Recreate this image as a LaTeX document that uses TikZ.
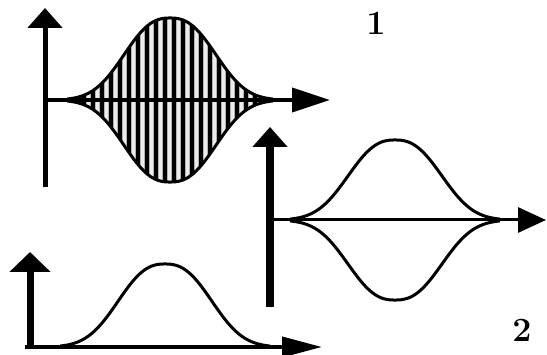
\documentclass[tikz,border=0pt]{standalone}
\usepackage{tikz}
\usetikzlibrary{arrows.meta,calc,positioning}

\tikzset{
  axis/.style={line width=#1,-{Triangle[length=20pt,width=34pt]}},
  haxis/.style={line width=#1,-{Triangle[length=38pt,width=24pt]}},
  env/.style={line width=3pt,line join=round},
  numlab/.style={font=\fontsize{34}{34}\selectfont\bfseries,inner sep=0pt}
}
% pulse shape, t in [-1,1]
\newcommand{\pulse}[1]{exp(-(abs(#1)/0.55)^2.5)}

\begin{document}
\begin{tikzpicture}[x=1pt,y=1pt]
\useasboundingbox (0,0) rectangle (547,354);
% panel 1: striped pulse
\coordinate (oA) at (45,254);
\begin{scope}
\clip plot[domain=-1:1,samples=90] ({170+103*\x},{254+82*\pulse{\x}})
  -- plot[domain=1:-1,samples=90] ({170+103*\x},{254-82*\pulse{\x}}) -- cycle;
\fill[gray!60] (60,160) rectangle (290,350);
\foreach \i in {0,...,22}{
  \draw[line width=3.6pt] ({75+9*\i},160) -- ++(0,190);
  \draw[line width=2.2pt,white!85!gray] ({79.5+9*\i},160) -- ++(0,190);
}
\end{scope}
\draw[env] plot[domain=-1:1,samples=90] ({170+103*\x},{254+82*\pulse{\x}});
\draw[env] plot[domain=-1:1,samples=90] ({170+103*\x},{254-82*\pulse{\x}});
\draw[axis=5pt] ($(oA)+(0,-87)$) -- ($(oA)+(0,92)$);
\draw[haxis=4pt] (oA) -- ($(oA)+(285,0)$);
\node[numlab] (lab1) at (376,331) {1};

% panel 2: envelope only
\coordinate (oB) at (270,134);
\draw[env] plot[domain=-1:1,samples=90] ({395+105*\x},{134+80*\pulse{\x}});
\draw[env] plot[domain=-1:1,samples=90] ({395+105*\x},{134-80*\pulse{\x}});
\draw[axis=8pt] ($(oB)+(0,-87)$) -- ($(oB)+(0,93)$);
\draw[line width=3pt,-{Triangle[length=28pt,width=25pt]}] (oB) -- ($(oB)+(276,0)$);
\node[numlab] (lab2) at (522,24) {2};

% panel 3: intensity
\coordinate (oC) at (30,7);
\draw[env] plot[domain=-1:1,samples=90] ({165+105*\x},{7+83*\pulse{\x}});
\draw[line width=7pt,-{Triangle[length=20pt,width=40pt]}] ($(oC)+(0,-2)$) -- ($(oC)+(0,95)$);
\draw[line width=4pt,-{Triangle[length=40pt,width=20pt]}] ($(oC)+(-5,0)$) -- ($(oC)+(292,0)$);
\end{tikzpicture}
\end{document}
